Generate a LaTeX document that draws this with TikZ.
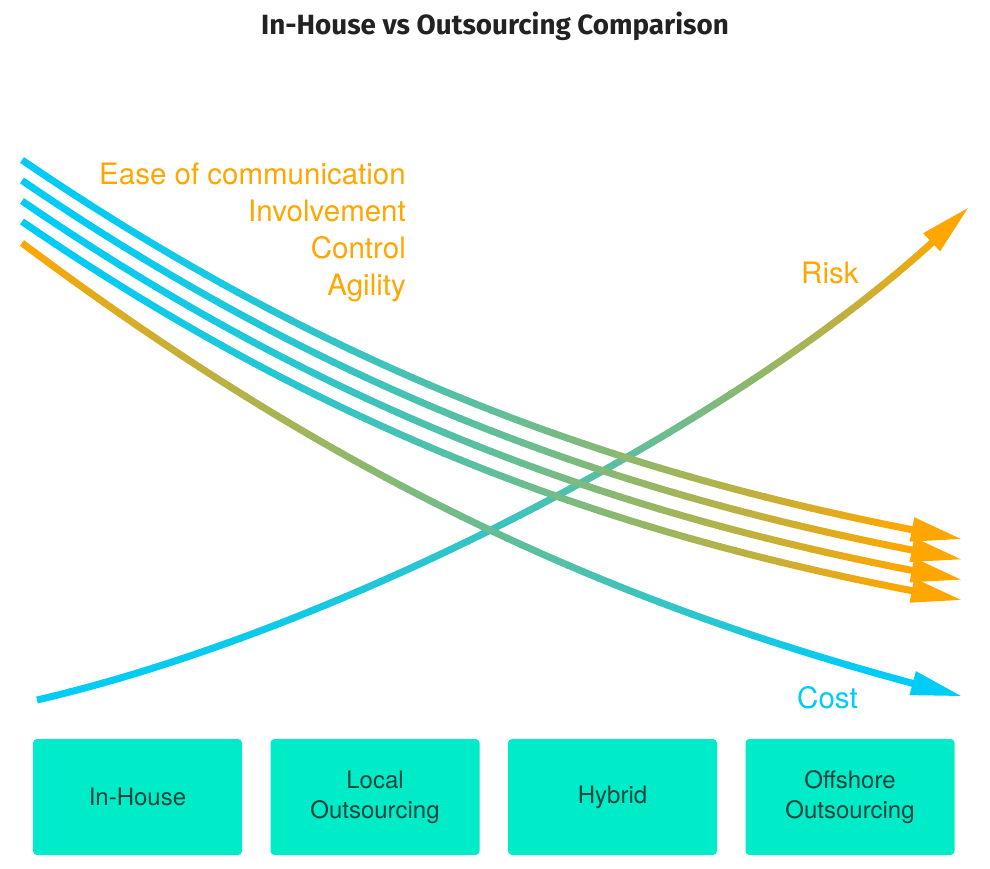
\documentclass[tikz,border=0pt]{standalone}
\usepackage{fontspec}
\setmainfont{TeX Gyre Heros}
\newfontfamily\titlefont{Fira Sans}
\usetikzlibrary{arrows.meta}
\definecolor{cblue}{HTML}{00CCF7}
\definecolor{corange}{HTML}{FFA700}
\definecolor{boxfill}{HTML}{00EBC7}
\definecolor{boxtext}{HTML}{12453C}
\definecolor{titlecol}{HTML}{222222}
\newcommand{\NS}{60}
\newcommand{\NSm}{57}
% #1 name, #2-#5 points, #6 from colour, #7 to colour, #8 exponent
\newcommand{\gradcurve}[8]{%
  \foreach \i in {0,...,\NS}{\path #2 .. controls #3 and #4 .. coordinate[pos=\i/\NS] (#1-\i) #5;}
  \draw[line width=3pt, line cap=butt, #7, -{Triangle[length=50pt,width=24pt]}] (#1-55) -- (#1-\NS);
  \foreach \i [evaluate=\i as \j using int(\i+1)] in {0,...,\NSm}{%
    \pgfmathsetmacro\pc{min(100,100*((\i+0.5)/\NS)^#8/0.9)}%
    \draw[curveline, shorten >=-1pt, color=#7!\pc!#6] (#1-\i) -- (#1-\j);
  }%
}
\begin{document}
\begin{tikzpicture}[x=1pt,y=-1pt,
  curveline/.style={line width=7pt, line cap=butt},
  lbl/.style={font=\fontsize{29.5}{34}\selectfont, inner sep=0pt},
  optbox/.style={fill=boxfill, rounded corners=4pt, minimum width=209pt, minimum height=116pt,
    inner sep=0pt, align=center, text=boxtext, font=\fontsize{24}{30}\selectfont}]
\useasboundingbox[fill=white] (0,0) rectangle (990,869);

\node[anchor=base, inner sep=0pt, text=titlecol, font=\titlefont\bfseries\fontsize{27.8}{32}\selectfont] (title) at (495,35) {In-House vs Outsourcing Comparison};

% Risk
\coordinate (r0) at (37,700);
\coordinate (r1) at (360,625);
\coordinate (r2) at (780,400);
\coordinate (r3) at (968,208);
\gradcurve{risk}{(r0)}{(r1)}{(r2)}{(r3)}{cblue}{corange}{2}

% Cost
\coordinate (k0) at (22,243);
\coordinate (k1) at (352,490);
\coordinate (k2) at (630,612);
\coordinate (k3) at (961,696);
\gradcurve{cost}{(k0)}{(k1)}{(k2)}{(k3)}{corange}{cblue}{0.9}

% four falling curves
\foreach \k in {0,1,2,3}{
  \coordinate (a\k-0) at (22,{160+20.5*\k});
  \coordinate (a\k-1) at (362,{392+21*\k});
  \coordinate (a\k-2) at (660,{484+20.5*\k});
  \coordinate (a\k-3) at (961,{539+20.3*\k});
}
\gradcurve{fa}{(a0-0)}{(a0-1)}{(a0-2)}{(a0-3)}{cblue}{corange}{1.5}
\gradcurve{fb}{(a1-0)}{(a1-1)}{(a1-2)}{(a1-3)}{cblue}{corange}{1.5}
\gradcurve{fc}{(a2-0)}{(a2-1)}{(a2-2)}{(a2-3)}{cblue}{corange}{1.5}
\gradcurve{fd}{(a3-0)}{(a3-1)}{(a3-2)}{(a3-3)}{cblue}{corange}{1.5}

% labels
\node[lbl, text=corange, anchor=base east] (ease) at (406,185) {Ease of communication};
\node[lbl, text=corange, anchor=base east] (inv) at (406,222) {Involvement};
\node[lbl, text=corange, anchor=base east] (ctrl) at (406,258) {Control};
\node[lbl, text=corange, anchor=base east] (agil) at (406,295) {Agility};
\node[lbl, text=corange, anchor=base west] (risklbl) at (801,283) {Risk};
\node[lbl, text=cblue, anchor=base west] (costlbl) at (797,708) {Cost};

% boxes
\node[optbox] (b1) at (137.5,797) {In-House};
\node[optbox] (b2) at (375,797) {Local\\Outsourcing};
\node[optbox] (b3) at (612.5,797) {Hybrid};
\node[optbox] (b4) at (850,797) {Offshore\\Outsourcing};
\end{tikzpicture}
\end{document}
